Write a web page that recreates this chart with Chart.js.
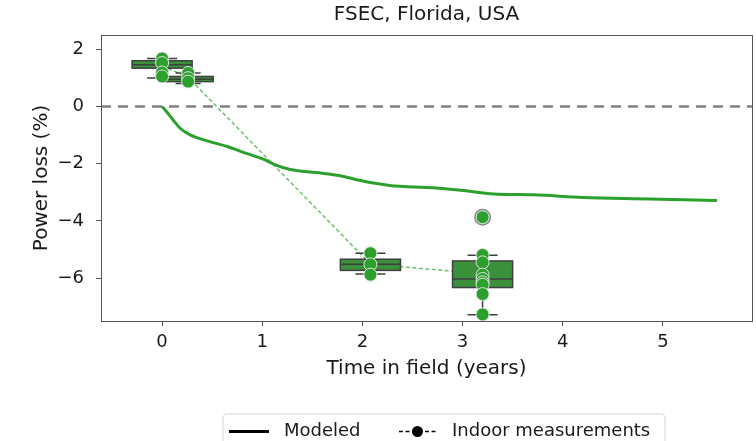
<!DOCTYPE html>
<html>
<head>
<meta charset="utf-8">
<script src="https://cdn.jsdelivr.net/npm/chart.js@4/dist/chart.umd.min.js"></script>
<style>
  html, body { margin: 0; padding: 0; background: #ffffff; }
  #wrap { width: 756px; height: 441px; }
</style>
</head>
<body>
<div id="wrap"><canvas id="c" width="756" height="441"></canvas></div>
<script>
// Modeled power loss over time in the field
const modelYears = [0, 0.05, 0.11, 0.18, 0.28, 0.45, 0.65, 0.85, 1.01, 1.13, 1.28, 1.54, 1.78, 1.98, 2.27, 2.71, 3.01, 3.31, 3.71, 4.2, 4.87, 5.54];
const modelLoss  = [0, -0.2, -0.47, -0.76, -0.99, -1.2, -1.4, -1.65, -1.84, -2.04, -2.2, -2.31, -2.42, -2.59, -2.76, -2.84, -2.94, -3.06, -3.09, -3.18, -3.23, -3.29];

// Indoor measurement campaigns: box statistics
const boxYears       = [0, 0.26, 2.08, 3.2];
const boxWhiskerLow  = [1.0, 0.8, -5.86, -7.28];
const boxQ1          = [1.34, 0.87, -5.73, -6.33];
const boxMedian      = [1.46, 0.95, -5.52, -6.03];
const boxQ3          = [1.6, 1.05, -5.34, -5.4];
const boxWhiskerHigh = [1.68, 1.17, -5.13, -5.2];

// Individual module measurements
const pointYears = [0, 0, 0, 0, 0.26, 0.26, 0.26, 2.08, 2.08, 2.08, 3.2, 3.2, 3.2, 3.2, 3.2, 3.2, 3.2, 3.2, 3.2];
const pointLoss  = [1.68, 1.52, 1.19, 1.05, 1.17, 0.99, 0.87, -5.13, -5.52, -5.88, -5.19, -5.45, -5.88, -6.03, -6.15, -6.23, -6.56, -7.27, -3.87];

// Outliers beyond the whiskers
const flierYears = [3.2];
const flierLoss  = [-3.87];

// Campaign means
const meanYears = [0, 0.26, 2.08, 3.2];
const meanLoss  = [1.42, 1.02, -5.51, -5.85];

const xTicks = [0, 1, 2, 3, 4, 5];
const yTicks = [-6, -4, -2, 0, 2];
const referenceLoss = 0;

const GREEN = '#2ca02c';
const FONT = "'DejaVu Sans', sans-serif";

const pairs = (xs, ys) => xs.map((x, i) => ({ x: x, y: ys[i] }));
const minus = v => String(v).replace('-', '\u2212');

const framePlugin = {
  id: 'frame',
  beforeDatasetsDraw(chart) {
    const { ctx, chartArea: a, scales } = chart;
    const y0 = scales.y.getPixelForValue(referenceLoss);
    ctx.save();
    ctx.strokeStyle = '#808080';
    ctx.lineWidth = 2.6;
    ctx.setLineDash([10, 7]);
    ctx.beginPath();
    ctx.moveTo(a.left, y0);
    ctx.lineTo(a.right, y0);
    ctx.stroke();
    ctx.restore();
  },
  afterDraw(chart) {
    const { ctx, chartArea: a } = chart;
    ctx.save();
    ctx.strokeStyle = '#555555';
    ctx.lineWidth = 1;
    ctx.strokeRect(a.left + 0.5, a.top + 0.5, a.right - a.left, a.bottom - a.top);
    ctx.restore();
  }
};

const boxPlugin = {
  id: 'boxes',
  beforeDatasetDraw(chart, args, opts) {
    if (args.index !== 0) return;
    const { ctx, chartArea: a, scales: { x: xs, y: ys } } = chart;
    ctx.save();
    ctx.beginPath();
    ctx.rect(a.left, a.top, a.right - a.left, a.bottom - a.top);
    ctx.clip();
    ctx.lineWidth = 1.5;
    ctx.strokeStyle = opts.edge;
    boxYears.forEach((t, i) => {
      const w = opts.widths[i];
      const l = xs.getPixelForValue(t - w / 2);
      const r = xs.getPixelForValue(t + w / 2);
      const cx = (l + r) / 2;
      const capHalf = (r - l) / 4;
      const pLow = ys.getPixelForValue(boxWhiskerLow[i]);
      const pQ1 = ys.getPixelForValue(boxQ1[i]);
      const pMed = ys.getPixelForValue(boxMedian[i]);
      const pQ3 = ys.getPixelForValue(boxQ3[i]);
      const pHigh = ys.getPixelForValue(boxWhiskerHigh[i]);
      ctx.beginPath();
      ctx.moveTo(cx, pQ1); ctx.lineTo(cx, pLow);
      ctx.moveTo(cx, pQ3); ctx.lineTo(cx, pHigh);
      ctx.moveTo(cx - capHalf, pLow); ctx.lineTo(cx + capHalf, pLow);
      ctx.moveTo(cx - capHalf, pHigh); ctx.lineTo(cx + capHalf, pHigh);
      ctx.stroke();
      ctx.fillStyle = opts.fill;
      ctx.fillRect(l, pQ3, r - l, pQ1 - pQ3);
      ctx.strokeRect(l, pQ3, r - l, pQ1 - pQ3);
      ctx.beginPath();
      ctx.moveTo(l, pMed); ctx.lineTo(r, pMed);
      ctx.stroke();
    });
    ctx.restore();
  }
};

const textPlugin = {
  id: 'texts',
  afterDraw(chart) {
    const { ctx, chartArea: a } = chart;
    ctx.save();
    // title
    ctx.fillStyle = '#1a1a1a';
    ctx.font = '20px ' + FONT;
    ctx.textAlign = 'center';
    ctx.textBaseline = 'middle';
    ctx.fillText('FSEC, Florida, USA', (a.left + a.right) / 2, 15);

    // legend
    const lx = 223, ly = 414, lw = 442, lh = 40, rad = 4;
    ctx.beginPath();
    ctx.moveTo(lx + rad, ly);
    ctx.lineTo(lx + lw - rad, ly);
    ctx.quadraticCurveTo(lx + lw, ly, lx + lw, ly + rad);
    ctx.lineTo(lx + lw, ly + lh);
    ctx.lineTo(lx, ly + lh);
    ctx.lineTo(lx, ly + rad);
    ctx.quadraticCurveTo(lx, ly, lx + rad, ly);
    ctx.fillStyle = 'rgba(255,255,255,0.85)';
    ctx.fill();
    ctx.strokeStyle = '#d6d6d6';
    ctx.lineWidth = 1;
    ctx.stroke();

    const cy = 431.5;
    ctx.strokeStyle = '#000000';
    ctx.lineWidth = 3;
    ctx.setLineDash([]);
    ctx.beginPath();
    ctx.moveTo(229, cy); ctx.lineTo(269, cy);
    ctx.stroke();

    ctx.lineWidth = 1.5;
    ctx.setLineDash([4, 2.5]);
    ctx.beginPath();
    ctx.moveTo(399, cy); ctx.lineTo(436, cy);
    ctx.stroke();
    ctx.setLineDash([]);
    ctx.fillStyle = '#000000';
    ctx.beginPath();
    ctx.arc(417.5, cy, 5.5, 0, Math.PI * 2);
    ctx.fill();

    ctx.fillStyle = '#1a1a1a';
    ctx.font = '18px ' + FONT;
    ctx.textAlign = 'left';
    ctx.fillText('Modeled', 284, cy);
    ctx.fillText('Indoor measurements', 452, cy);
    ctx.restore();
  }
};

new Chart(document.getElementById('c'), {
  type: 'scatter',
  data: {
    datasets: [
      {
        label: 'Indoor measurements',
        data: pairs(pointYears, pointLoss),
        order: 0,
        pointRadius: 6.5,
        pointBackgroundColor: GREEN,
        pointBorderColor: 'rgba(230,230,230,0.95)',
        pointBorderWidth: 1,
        showLine: false
      },
      {
        label: 'Outliers',
        data: pairs(flierYears, flierLoss),
        order: 1,
        pointRadius: 7.5,
        pointBackgroundColor: 'rgba(0,0,0,0)',
        pointBorderColor: '#8a8a8a',
        pointBorderWidth: 2,
        showLine: false
      },
      {
        label: 'Modeled',
        data: pairs(modelYears, modelLoss),
        order: 2,
        showLine: true,
        borderColor: GREEN,
        borderWidth: 3,
        pointRadius: 0,
        tension: 0.3,
        cubicInterpolationMode: 'monotone'
      },
      {
        label: 'Mean',
        data: pairs(meanYears, meanLoss),
        order: 3,
        showLine: true,
        borderColor: 'rgba(70,180,70,0.85)',
        borderWidth: 1.4,
        borderDash: [4, 2.5],
        pointRadius: 0
      }
    ]
  },
  options: {
    responsive: false,
    devicePixelRatio: 1,
    animation: false,
    events: [],
    layout: { autoPadding: false, padding: { top: 35, right: 4, bottom: 60, left: 0 } },
    plugins: {
      legend: { display: false },
      tooltip: { enabled: false },
      title: { display: false },
      boxes: { widths: [0.6, 0.5, 0.6, 0.6], fill: '#3b913b', edge: '#3f3f3f' }
    },
    scales: {
      x: {
        type: 'linear',
        min: -0.61,
        max: 5.89,
        afterBuildTicks: s => { s.ticks = xTicks.map(v => ({ value: v })); },
        afterFit: s => { s.height = 60; s.paddingLeft = 0; s.paddingRight = 0; },
        grid: { drawOnChartArea: false, drawTicks: true, tickLength: 5, tickColor: '#555555' },
        border: { display: false },
        ticks: { color: '#1a1a1a', font: { family: FONT, size: 18 }, padding: 6, maxRotation: 0, callback: v => minus(v) },
        title: { display: true, text: 'Time in field (years)', color: '#1a1a1a', font: { family: FONT, size: 20 }, padding: { top: 0, bottom: 0 } }
      },
      y: {
        type: 'linear',
        min: -7.5,
        max: 2.5,
        afterBuildTicks: s => { s.ticks = yTicks.map(v => ({ value: v })); },
        afterFit: s => { s.width = 101; },
        grid: { drawOnChartArea: false, drawTicks: true, tickLength: 5, tickColor: '#555555' },
        border: { display: false },
        ticks: { color: '#1a1a1a', font: { family: FONT, size: 18 }, padding: 12, callback: v => minus(v) },
        title: { display: true, text: 'Power loss (%)', color: '#1a1a1a', font: { family: FONT, size: 20 }, padding: { top: 30, bottom: 0 } }
      }
    }
  },
  plugins: [framePlugin, boxPlugin, textPlugin]
});
</script>
</body>
</html>
